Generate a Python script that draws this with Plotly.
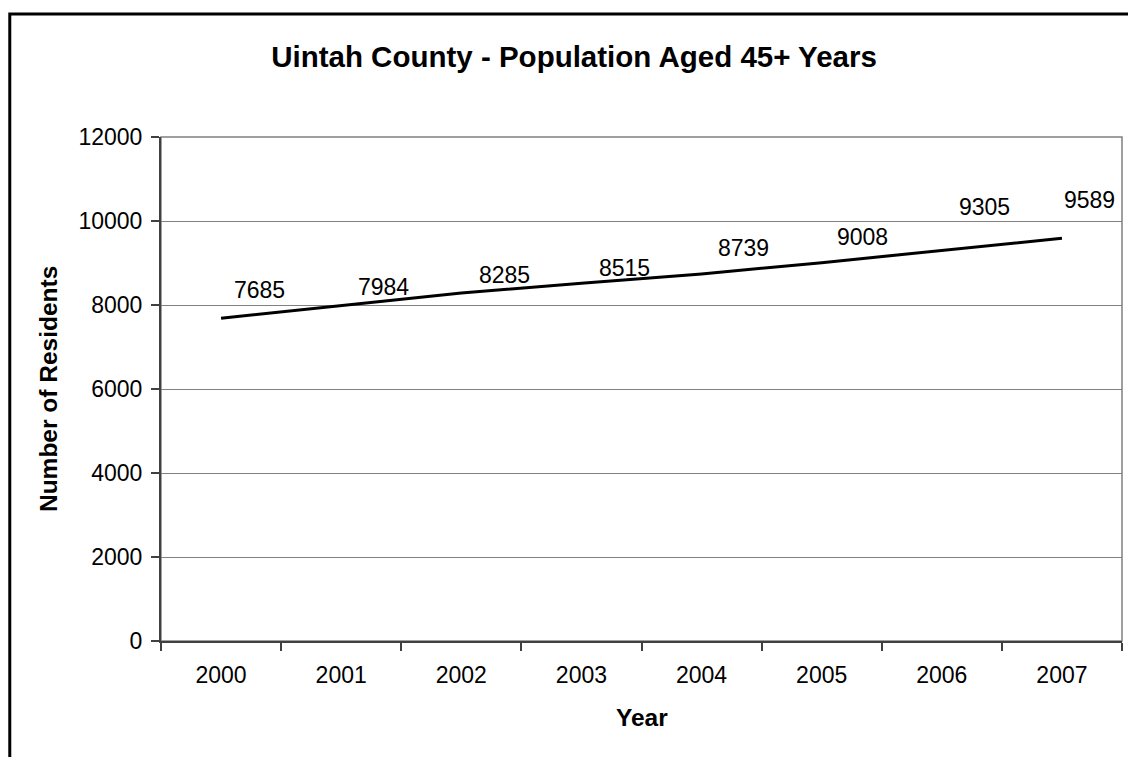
import plotly.graph_objects as go

# Uintah County residents aged 45 and over, by year
years = ["2000", "2001", "2002", "2003", "2004", "2005", "2006", "2007"]
residents = [7685, 7984, 8285, 8515, 8739, 9008, 9305, 9589]
y_ticks = [0, 2000, 4000, 6000, 8000, 10000, 12000]

# pixel offsets (dx, dy) of each value label from its point
label_offsets = [(38, -28), (42, -19), (43, -18), (43, -15),
                 (42, -26), (41, -26), (43, -43), (28, -38)]

FONT = "Liberation Sans, Arial, sans-serif"
W, H = 1128, 757
L, R, T, B = 161, 1122.5, 137, 641  # plot area in pixels

fig = go.Figure()
fig.add_trace(go.Scatter(
    x=years, y=residents, mode="lines",
    line=dict(color="black", width=3),
    hoverinfo="x+y", showlegend=False,
))

# value labels; category positions are given by index on the category axis
for i, (val, (dx, dy)) in enumerate(zip(residents, label_offsets)):
    fig.add_annotation(
        x=i, y=val, text=str(val), showarrow=False,
        xshift=dx, yshift=-dy, xanchor="center", yanchor="middle",
        font=dict(family=FONT, size=23, color="black"),
    )

def px_x(p):
    return (p - L) / (R - L)

def px_y(p):
    return (B - p) / (B - T)

# axis titles
fig.add_annotation(
    x=px_x(48), y=0.5, xref="paper", yref="paper",
    text="<b>Number of Residents</b>", textangle=-90, showarrow=False,
    xanchor="center", yanchor="middle",
    font=dict(family=FONT, size=24.5, color="black"),
)
fig.add_annotation(
    x=0.5, y=px_y(717), xref="paper", yref="paper",
    text="<b>Year</b>", showarrow=False,
    xanchor="center", yanchor="middle",
    font=dict(family=FONT, size=24.5, color="black"),
)

# plot-area border (top and right edges show in gray)
fig.add_shape(type="rect", xref="paper", yref="paper", x0=0, y0=0, x1=1, y1=1,
              line=dict(color="#808080", width=1.5), layer="below")
# outer chart frame
fig.add_shape(type="rect", xref="paper", yref="paper",
              x0=px_x(9.7), y0=px_y(800), x1=px_x(1200), y1=px_y(14),
              line=dict(color="black", width=3), layer="below")

fig.update_layout(
    width=W, height=H, autosize=False,
    margin=dict(l=L, r=W - R, t=T, b=H - B, pad=0),
    paper_bgcolor="white", plot_bgcolor="white",
    font=dict(family=FONT, color="black"),
    title=dict(
        text="<b>Uintah County - Population Aged 45+ Years</b>",
        x=574 / W, xanchor="center", xref="container",
        y=1 - 57 / H, yanchor="middle", yref="container",
        font=dict(family=FONT, size=29.5, color="black"),
    ),
    xaxis=dict(
        type="category", range=[-0.5, 7.5], tickson="boundaries",
        ticks="outside", ticklen=8, tickwidth=1.5, tickcolor="#404040",
        showline=True, linecolor="#404040", linewidth=2,
        showgrid=False, zeroline=False, ticklabelstandoff=12,
        tickfont=dict(family=FONT, size=23, color="black"),
    ),
    yaxis=dict(
        range=[0, 12000], tickvals=y_ticks, ticktext=[str(v) for v in y_ticks],
        ticks="outside", ticklen=8, tickwidth=1.5, tickcolor="#404040",
        showline=True, linecolor="#404040", linewidth=2,
        showgrid=True, gridcolor="#808080", gridwidth=1,
        zeroline=False, ticklabelstandoff=4,
        tickfont=dict(family=FONT, size=23, color="black"),
    ),
)

fig.write_html("out.html")
